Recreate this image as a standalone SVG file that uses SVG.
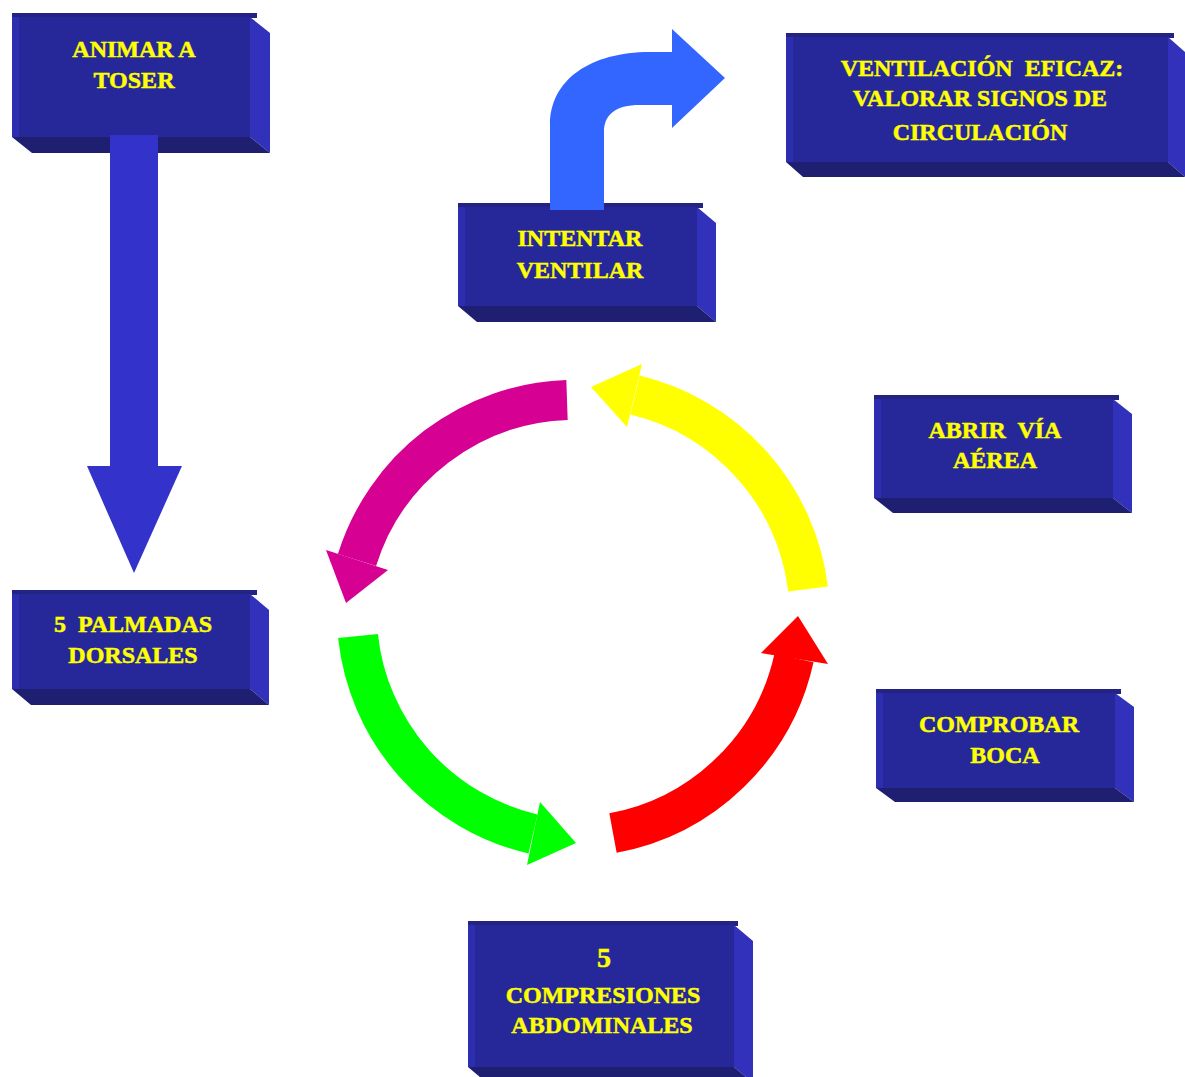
<svg xmlns="http://www.w3.org/2000/svg" width="1185" height="1077" viewBox="0 0 1185 1077">
<style>
.top{fill:#232383}
.front{fill:#26289a}
.left{fill:#2d2db0}
.right{fill:#3131bb}
.bottom{fill:#1f1f72}
.lbl{font-family:"Liberation Serif","Times New Roman",serif;font-weight:bold;font-size:24px;fill:#ffff00;stroke:#ffff00;stroke-width:0.5;text-anchor:middle;white-space:pre}
.arc{fill:none;stroke-width:40;stroke-linecap:butt}
</style>
<rect width="1185" height="1077" fill="#ffffff"/>
<g id="nodes">
<g id="animar">
<rect class="top" x="12" y="13" width="245" height="5"/>
<rect class="front" x="12" y="17" width="238" height="120"/>
<rect class="left" x="12" y="17" width="7" height="120"/>
<polygon class="right" points="250,17 270,33 270,153 250,137"/>
<polygon class="bottom" points="12,137 250,137 270,153 32,153"/>
<text class="lbl" x="134" y="57">ANIMAR A</text>
<text class="lbl" x="134" y="88">TOSER</text>
</g>
<g id="intentar">
<rect class="top" x="458" y="203" width="245" height="5"/>
<rect class="front" x="458" y="207" width="239" height="99"/>
<rect class="left" x="458" y="207" width="7" height="99"/>
<polygon class="right" points="697,207 716,223 716,322 697,306"/>
<polygon class="bottom" points="458,306 697,306 716,322 477,322"/>
<text class="lbl" x="580" y="246">INTENTAR</text>
<text class="lbl" x="580" y="278">VENTILAR</text>
</g>
<g id="ventilacion">
<rect class="top" x="786" y="33" width="388" height="5"/>
<rect class="front" x="786" y="37" width="382" height="125"/>
<rect class="left" x="786" y="37" width="7" height="125"/>
<polygon class="right" points="1168,37 1185,52 1185,177 1168,162"/>
<polygon class="bottom" points="786,162 1168,162 1185,177 803,177"/>
<text class="lbl" x="982" y="76">VENTILACIÓN  EFICAZ:</text>
<text class="lbl" x="980" y="106">VALORAR SIGNOS DE</text>
<text class="lbl" x="980" y="140">CIRCULACIÓN</text>
</g>
<g id="abrir">
<rect class="top" x="874" y="395" width="245" height="5"/>
<rect class="front" x="874" y="399" width="239" height="99"/>
<rect class="left" x="874" y="399" width="7" height="99"/>
<polygon class="right" points="1113,399 1132,414 1132,513 1113,498"/>
<polygon class="bottom" points="874,498 1113,498 1132,513 893,513"/>
<text class="lbl" x="995" y="438">ABRIR  VÍA</text>
<text class="lbl" x="995" y="468">AÉREA</text>
</g>
<g id="comprobar">
<rect class="top" x="876" y="689" width="245" height="5"/>
<rect class="front" x="876" y="693" width="239" height="95"/>
<rect class="left" x="876" y="693" width="7" height="95"/>
<polygon class="right" points="1115,693 1134,707 1134,802 1115,788"/>
<polygon class="bottom" points="876,788 1115,788 1134,802 895,802"/>
<text class="lbl" x="999" y="732">COMPROBAR</text>
<text class="lbl" x="1005" y="763">BOCA</text>
</g>
<g id="palmadas">
<rect class="top" x="12" y="590" width="245" height="5"/>
<rect class="front" x="12" y="594" width="238" height="95"/>
<rect class="left" x="12" y="594" width="7" height="95"/>
<polygon class="right" points="250,594 269,610 269,705 250,689"/>
<polygon class="bottom" points="12,689 250,689 269,705 31,705"/>
<text class="lbl" x="133" y="632">5  PALMADAS</text>
<text class="lbl" x="133" y="663">DORSALES</text>
</g>
<g id="compresiones">
<rect class="top" x="468" y="921" width="270" height="5"/>
<rect class="front" x="468" y="925" width="266" height="142"/>
<rect class="left" x="468" y="925" width="7" height="142"/>
<polygon class="right" points="734,925 753,941 753,1083 734,1067"/>
<polygon class="bottom" points="468,1067 734,1067 753,1083 487,1083"/>
<text class="lbl" x="604" y="967" style="font-size:28px">5</text>
<text class="lbl" x="603" y="1003">COMPRESIONES</text>
<text class="lbl" x="602" y="1033">ABDOMINALES</text>
</g>
</g>
<g id="connectors">
<g id="down-arrow" fill="#3333cc">
<rect x="110" y="135" width="48" height="332"/>
<polygon points="87,466 182,466 134,573"/>
</g>
<path id="bent-arrow" fill="#3366ff" d="M550 210 L550 125 C550 80 590 52 650 52 L672 52 L672 29 L725 78 L672 128 L672 105 L640 105 C615 105 604 115 604 132 L604 210 Z"/>
<g id="magenta">
<path class="arc" stroke="#d60093" d="M567 400 A228 228 0 0 0 357 560"/>
<polygon fill="#d60093" points="326,550 388,570 346,603"/>
</g>
<g id="yellow">
<path class="arc" stroke="#ffff00" d="M808 589 A228 228 0 0 0 635 395"/>
<polygon fill="#ffff00" points="642,364 627,427 591,387"/>
</g>
<g id="red">
<path class="arc" stroke="#ff0000" d="M613 833 A228 228 0 0 0 794 658"/>
<polygon fill="#ff0000" points="761,653 798,616 828,664"/>
</g>
<g id="green">
<path class="arc" stroke="#00ff00" d="M358 636 A228 228 0 0 0 533 834"/>
<polygon fill="#00ff00" points="540,802 576,843 527,865"/>
</g>
</g>
</svg>
